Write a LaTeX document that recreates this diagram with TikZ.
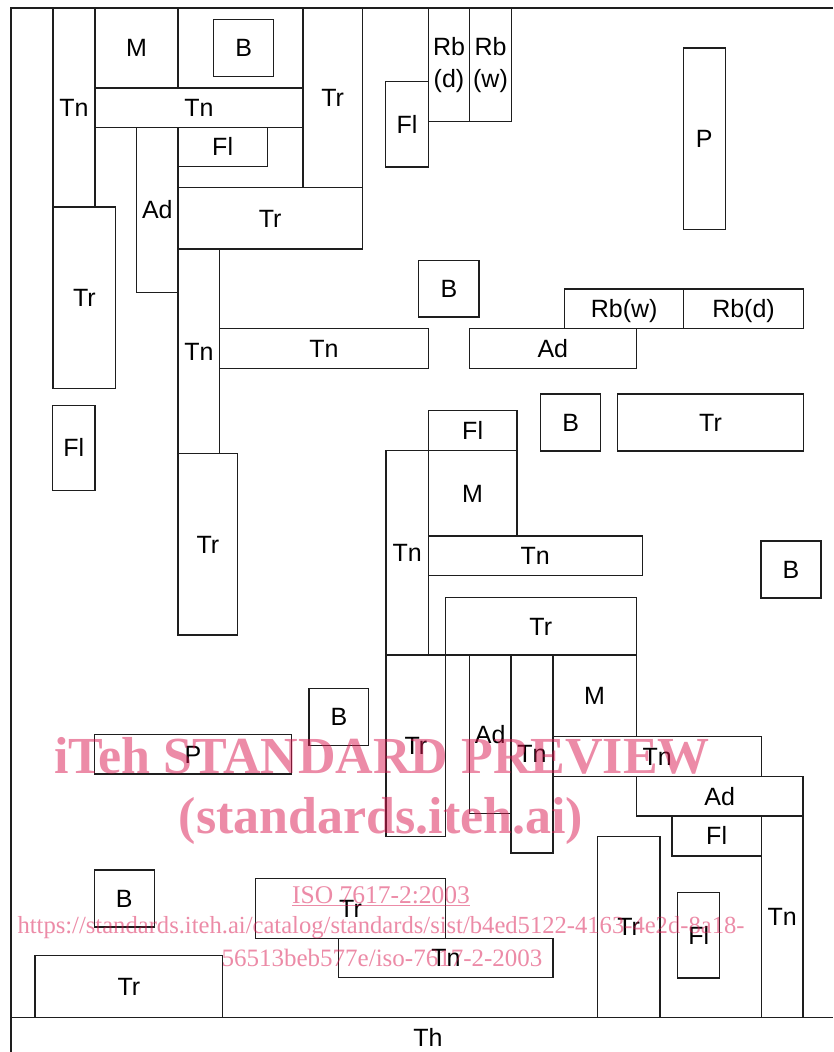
\documentclass[tikz,border=0pt]{standalone}
\usepackage{fontspec}
\setmainfont{Liberation Sans}
\newfontfamily\wmfont{Liberation Serif}
\definecolor{wmpink}{RGB}{217,23,79}
\definecolor{ink}{RGB}{30,30,30}
\tikzset{
  bx/.style={draw=ink, line width=1.1pt, inner sep=0pt, font=\fontsize{25}{32}\selectfont, text height=17.9pt, text depth=0pt},
  bxtwo/.style={draw=ink, line width=1.1pt, inner sep=0pt, font=\fontsize{25}{32}\selectfont, align=center},
  wm/.style={text=wmpink, text opacity=0.5, inner sep=0pt, anchor=base},
  frame/.style={draw=ink, line width=2pt},
  thline/.style={draw=ink, line width=1.3pt}
}
\newcommand\bx[7][bx]{\node[#1, minimum width={(#5-#3)*1pt}, minimum height={(#6-#4)*1pt}] (#2) at ({(#3+#5)/2},{(#4+#6)/2}) {#7};}
\begin{document}
\begin{tikzpicture}[x=1pt, y=-1pt]
\useasboundingbox (0,0) rectangle (833,1052);
% frame
\coordinate (fTR) at (833,8);
\coordinate (fTL) at (11,8);
\coordinate (fBL) at (11,1052);
\coordinate (thL) at (11,1017.7);
\coordinate (thR) at (833,1017.7);
\draw[frame] (fTR) -- (fTL) -- (fBL);
\draw[thline] (thL) -- (thR);
\node[font=\fontsize{25}{30}\selectfont, text height=17.9pt, text depth=0pt, inner sep=0pt] (th) at (428,1038) {Th};
% boxes
\bx{tnA}{53}{8}{95}{207}{Tn}
\bx{mA}{95}{8}{178}{88}{M}
\bx{bA}{213.7}{19.3}{273.7}{76.7}{B}
\bx{tnB}{95}{88}{303}{127.3}{Tn}
\bx{trA}{303}{8}{362.3}{187.3}{Tr}
\bx{flA}{178}{127.3}{267.3}{166.7}{Fl}
\bx{adA}{136.7}{127.3}{178}{292.3}{Ad}
\bx{trB}{178}{187.3}{362.3}{249}{Tr}
\bx{trC}{53}{207}{115.7}{388.3}{Tr}
\bx{tnC}{178}{249}{219.7}{453.3}{Tn}
\bx{tnD}{219.7}{328.7}{428.3}{368.3}{Tn}
\bx{trD}{178}{453.3}{237.7}{635}{Tr}
\bx{flB}{52.7}{405.3}{95}{490.3}{Fl}
\bx{flC}{385.7}{81.7}{428.3}{167}{Fl}
\bx[bxtwo]{rbA}{428.3}{8}{469.7}{121.7}{Rb\\(d)}
\bx[bxtwo]{rbB}{469.7}{8}{511.3}{121.7}{Rb\\(w)}
\bx{pA}{683.3}{48}{725.3}{229.7}{P}
\bx{bB}{418.7}{260.7}{479}{317}{B}
\bx{rbC}{564.7}{289}{683.7}{328.7}{Rb(w)}
\bx{rbD}{683.7}{289}{803.3}{328.7}{Rb(d)}
\bx{adB}{469.3}{328.7}{636.3}{368.3}{Ad}
\bx{bC}{540.7}{394}{600.7}{451}{B}
\bx{trE}{617.7}{394}{803.3}{451}{Tr}
\bx{flD}{428.3}{410.7}{517}{450.7}{Fl}
\bx{tnE}{386}{450.7}{428.3}{655}{Tn}
\bx{mB}{428.3}{450.7}{517}{536}{M}
\bx{tnF}{428.3}{536}{642.3}{575.7}{Tn}
\bx{bD}{761}{541}{821}{598}{B}
\bx{trF}{445.3}{597.7}{636.3}{655}{Tr}
\bx{trG}{386}{655}{445.7}{836.3}{Tr}
\bx{adC}{469.3}{655}{511}{813.7}{Ad}
\bx{tnG}{511}{655}{553}{853}{Tn}
\bx{mC}{553}{655}{636.3}{736.7}{M}
\bx{tnH}{553}{736.7}{761.3}{776.3}{Tn}
\bx{adD}{636.3}{776.3}{803}{816}{Ad}
\bx{flE}{672}{816}{761.3}{856}{Fl}
\bx{tnI}{761.3}{816}{803}{1017.7}{Tn}
\bx{trH}{597.3}{836.3}{660}{1017.7}{Tr}
\bx{flF}{677.7}{892.7}{719.7}{978}{Fl}
\bx{tnJ}{338.7}{938.3}{553}{977.7}{Tn}
\bx{trI}{255.3}{878.7}{445.7}{938.3}{Tr}
\bx{bE}{309}{688.3}{368.7}{745.3}{B}
\bx{pB}{94.3}{734.3}{291.7}{774}{P}
\bx{bF}{94.3}{870}{154.3}{927}{B}
\bx{trJ}{35}{955.3}{222.7}{1017.7}{Tr}
% watermark
\node[wm, font=\wmfont\bfseries\fontsize{52}{60}\selectfont] (wmA) at (382,773) {iTeh STANDARD PREVIEW};
\node[wm, font=\wmfont\bfseries\fontsize{52}{60}\selectfont] (wmB) at (381,833) {(standards.iteh.ai)};
\node[wm, font=\wmfont\fontsize{25.5}{30}\selectfont] (wmC) at (381,903) {\underline{ISO 7617-2:2003}};
\node[wm, font=\wmfont\fontsize{24.6}{30}\selectfont] (wmD) at (381,933) {https://standards.iteh.ai/catalog/standards/sist/b4ed5122-4163-4e2d-8a18-};
\node[wm, font=\wmfont\fontsize{25}{30}\selectfont] (wmE) at (382,966.7) {56513beb577e/iso-7617-2-2003};
\end{tikzpicture}
\end{document}
